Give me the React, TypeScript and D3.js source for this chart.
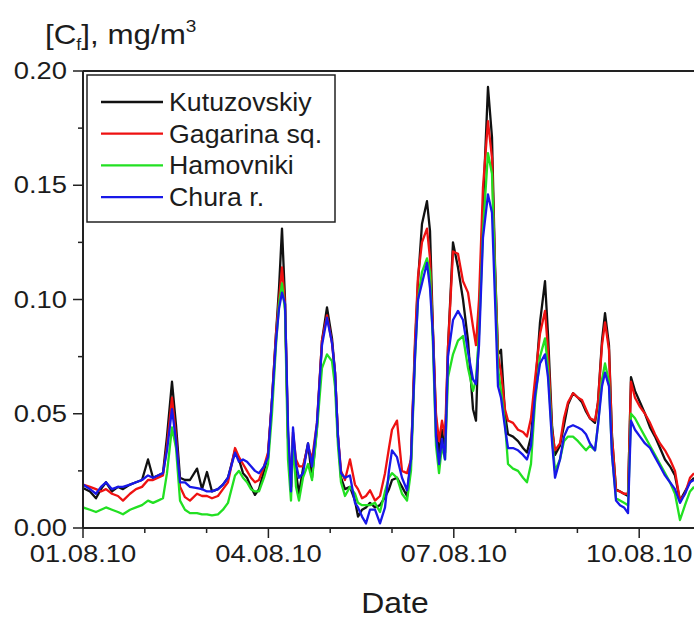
import React from "react";
import * as d3 from "d3";

// time in days since 01.08.10 00:00
const days = [
  0, 0.113, 0.21, 0.291, 0.372, 0.469, 0.566, 0.647, 0.761, 0.858, 0.955, 1.052, 1.133, 1.214, 1.294, 1.359, 1.44, 1.505, 1.57, 1.65,
  1.731, 1.845, 1.926, 2.006, 2.087, 2.184, 2.265, 2.346, 2.46, 2.524, 2.589, 2.654, 2.718, 2.783, 2.848, 2.929, 2.994, 3.058, 3.123, 3.172,
  3.22, 3.269, 3.317, 3.366, 3.398, 3.447, 3.495, 3.56, 3.641, 3.706, 3.786, 3.867, 3.948, 4.029, 4.078, 4.126, 4.175, 4.239, 4.32, 4.401,
  4.45, 4.515, 4.579, 4.644, 4.725, 4.806, 4.887, 4.951, 5.0, 5.081, 5.162, 5.243, 5.307, 5.372, 5.421, 5.485, 5.566, 5.615, 5.663, 5.712,
  5.761, 5.809, 5.858, 5.906, 5.987, 6.068, 6.149, 6.23, 6.311, 6.359, 6.408, 6.472, 6.553, 6.618, 6.667, 6.715, 6.764, 6.828, 6.877, 6.958,
  7.039, 7.12, 7.184, 7.249, 7.314, 7.395, 7.476, 7.524, 7.589, 7.638, 7.718, 7.783, 7.848, 7.929, 8.01, 8.074, 8.139, 8.204, 8.285, 8.333,
  8.398, 8.447, 8.511, 8.56, 8.625, 8.689, 8.754, 8.819, 8.867, 8.932, 9.013, 9.094, 9.175, 9.256, 9.337, 9.417, 9.498, 9.579, 9.66, 9.741,
  9.822, 9.887,
];

const kutuzovskiy = [
  0.0175, 0.016, 0.013, 0.017, 0.02, 0.016, 0.018, 0.017, 0.019, 0.02, 0.021, 0.03, 0.022, 0.023, 0.024, 0.04, 0.064, 0.045, 0.022, 0.021,
  0.021, 0.026, 0.017, 0.0245, 0.016, 0.017, 0.019, 0.022, 0.034, 0.03, 0.024, 0.022, 0.018, 0.0145, 0.017, 0.025, 0.032, 0.056, 0.085, 0.105,
  0.131, 0.1, 0.04, 0.018, 0.04, 0.024, 0.015, 0.026, 0.037, 0.022, 0.044, 0.082, 0.0965, 0.083, 0.068, 0.04, 0.022, 0.017, 0.018, 0.012,
  0.005, 0.008, 0.009, 0.011, 0.009, 0.01, 0.0135, 0.017, 0.021, 0.022, 0.018, 0.014, 0.03, 0.079, 0.108, 0.133, 0.143, 0.13, 0.086, 0.047,
  0.032, 0.043, 0.033, 0.079, 0.125, 0.114, 0.1, 0.082, 0.052, 0.047, 0.09, 0.14, 0.193, 0.171, 0.115, 0.076, 0.078, 0.05, 0.041, 0.04,
  0.038, 0.035, 0.033, 0.04, 0.06, 0.09, 0.108, 0.085, 0.045, 0.032, 0.036, 0.045, 0.054, 0.059, 0.057, 0.055, 0.051, 0.048, 0.046, 0.055,
  0.082, 0.094, 0.08, 0.04, 0.017, 0.016, 0.015, 0.014, 0.066, 0.06, 0.055, 0.05, 0.044, 0.04, 0.035, 0.03, 0.027, 0.023, 0.012, 0.016,
  0.02, 0.022,
];

const gagarina = [
  0.019, 0.018, 0.017, 0.016, 0.017, 0.015, 0.014, 0.012, 0.015, 0.017, 0.018, 0.021, 0.021, 0.022, 0.023, 0.036, 0.057, 0.04, 0.018, 0.0135,
  0.012, 0.015, 0.014, 0.014, 0.013, 0.014, 0.017, 0.02, 0.035, 0.031, 0.028, 0.025, 0.022, 0.02, 0.021, 0.027, 0.033, 0.056, 0.085, 0.1,
  0.114, 0.098, 0.04, 0.018, 0.042, 0.03, 0.027, 0.027, 0.036, 0.03, 0.046, 0.082, 0.093, 0.081, 0.068, 0.04, 0.025, 0.021, 0.03, 0.019,
  0.017, 0.013, 0.014, 0.0165, 0.012, 0.014, 0.024, 0.035, 0.043, 0.047, 0.025, 0.024, 0.03, 0.082, 0.11, 0.125, 0.131, 0.118, 0.086, 0.05,
  0.038, 0.047, 0.04, 0.079, 0.121, 0.12, 0.108, 0.103, 0.088, 0.08, 0.1, 0.149, 0.178, 0.162, 0.113, 0.076, 0.068, 0.052, 0.047, 0.046,
  0.043, 0.042, 0.04, 0.048, 0.065, 0.085, 0.095, 0.078, 0.043, 0.034, 0.037, 0.048, 0.055, 0.059, 0.057, 0.056, 0.052, 0.048, 0.047, 0.055,
  0.08, 0.09, 0.078, 0.04, 0.0165, 0.016, 0.015, 0.015, 0.064, 0.057, 0.053, 0.05, 0.046, 0.041, 0.037, 0.034, 0.03, 0.025, 0.012, 0.015,
  0.022, 0.024,
];

const hamovniki = [
  0.009, 0.008, 0.007, 0.008, 0.009, 0.008, 0.007, 0.006, 0.008, 0.009, 0.01, 0.012, 0.011, 0.012, 0.013, 0.024, 0.044, 0.035, 0.012, 0.008,
  0.0065, 0.0065, 0.006, 0.006, 0.0055, 0.006, 0.008, 0.011, 0.023, 0.025, 0.022, 0.02, 0.017, 0.016, 0.016, 0.022, 0.028, 0.05, 0.08, 0.098,
  0.107, 0.095, 0.03, 0.012, 0.038, 0.018, 0.012, 0.022, 0.028, 0.021, 0.043, 0.07, 0.076, 0.073, 0.062, 0.036, 0.02, 0.014, 0.018, 0.015,
  0.011, 0.01, 0.01, 0.01, 0.011, 0.007, 0.016, 0.022, 0.024, 0.022, 0.015, 0.012, 0.025, 0.074, 0.1, 0.112, 0.118, 0.112, 0.08, 0.036,
  0.024, 0.036, 0.03, 0.066, 0.076, 0.082, 0.084, 0.07, 0.06, 0.065, 0.085, 0.13, 0.164, 0.155, 0.11, 0.07, 0.06, 0.046, 0.028, 0.026,
  0.025, 0.022, 0.02, 0.028, 0.055, 0.075, 0.083, 0.07, 0.04, 0.025, 0.03, 0.038, 0.04, 0.04, 0.038, 0.036, 0.034, 0.036, 0.034, 0.045,
  0.065, 0.072, 0.064, 0.032, 0.013, 0.012, 0.011, 0.01, 0.05, 0.048, 0.044, 0.04, 0.036, 0.032, 0.028, 0.024, 0.02, 0.015, 0.0035, 0.01,
  0.016, 0.018,
];

const chura = [
  0.019, 0.017, 0.015, 0.018, 0.02, 0.017, 0.018, 0.018, 0.019, 0.02, 0.021, 0.023, 0.022, 0.023, 0.024, 0.034, 0.052, 0.038, 0.02, 0.02,
  0.018, 0.0175, 0.017, 0.016, 0.016, 0.017, 0.019, 0.022, 0.033, 0.029, 0.03, 0.029, 0.027, 0.025, 0.024, 0.027, 0.031, 0.056, 0.082, 0.096,
  0.103, 0.098, 0.045, 0.016, 0.044, 0.028, 0.022, 0.024, 0.037, 0.027, 0.046, 0.08, 0.092, 0.081, 0.068, 0.04, 0.024, 0.022, 0.023, 0.011,
  0.009, 0.005, 0.002, 0.008, 0.008, 0.002, 0.009, 0.025, 0.034, 0.031, 0.022, 0.0165, 0.03, 0.075, 0.1, 0.107, 0.116, 0.105, 0.084, 0.04,
  0.028, 0.039, 0.03, 0.075, 0.091, 0.095, 0.091, 0.077, 0.065, 0.063, 0.08, 0.127, 0.146, 0.138, 0.1, 0.062, 0.057, 0.044, 0.035, 0.035,
  0.034, 0.032, 0.03, 0.036, 0.058, 0.072, 0.076, 0.066, 0.038, 0.022, 0.03, 0.04, 0.044, 0.045, 0.044, 0.043, 0.041, 0.037, 0.034, 0.045,
  0.062, 0.068, 0.062, 0.032, 0.012, 0.01, 0.009, 0.0065, 0.047, 0.043, 0.04, 0.037, 0.035, 0.031, 0.027, 0.023, 0.02, 0.017, 0.011, 0.015,
  0.02, 0.021,
];

const seriesNames = ["Kutuzovskiy", "Gagarina sq.", "Hamovniki", "Chura r."];
const seriesColors = ["#111111", "#ee1111", "#22e022", "#1818e8"];
const seriesValues = [kutuzovskiy, gagarina, hamovniki, chura];

const yTicks = [0, 0.05, 0.1, 0.15, 0.2];
const yTickLabels = ["0.00", "0.05", "0.10", "0.15", "0.20"];
const xTicks = [0, 3, 6, 9];
const xTickLabels = ["01.08.10", "04.08.10", "07.08.10", "10.08.10"];

const W = 694;
const H = 618;
const left = 83;
const right = 701;
const top = 71;
const bottom = 528;

const textColor = "#1c1c1c";

function SText(props: {
  x: number;
  y: number;
  sx: number;
  size: number;
  anchor?: string;
  children: React.ReactNode;
}) {
  return (
    <text
      transform={`translate(${props.x},${props.y}) scale(${props.sx},1)`}
      textAnchor={props.anchor || "start"}
      fontSize={props.size}
      fill={textColor}
    >
      {props.children}
    </text>
  );
}

export default function App() {
  const x = d3.scaleLinear().domain([0, 10]).range([left, right]);
  const y = d3.scaleLinear().domain([0, 0.2]).range([bottom, top]);
  const line = d3
    .line<[number, number]>()
    .x((d) => x(d[0]))
    .y((d) => y(d[1]));

  const minorY = d3.range(0, 0.2001, 0.025);
  const minorX = d3.range(0, 11, 1);
  const font = "'Liberation Sans', Arial, sans-serif";

  return (
    <svg
      width={W}
      height={H}
      style={{ position: "absolute", left: 0, top: 0, background: "#fff" }}
      fontFamily={font}
    >
      <defs>
        <clipPath id="plotclip">
          <rect x={left} y={top} width={right - left} height={bottom - top} />
        </clipPath>
      </defs>
      <rect x={0} y={0} width={W} height={H} fill="#fff" />

      <g clipPath="url(#plotclip)">
        {seriesValues.map((vals, i) => (
          <path
            key={seriesNames[i]}
            d={line(days.map((d, j) => [d, vals[j]]) as [number, number][]) || ""}
            fill="none"
            stroke={seriesColors[i]}
            strokeWidth={2.3}
            strokeLinejoin="round"
          />
        ))}
      </g>

      {/* frame */}
      <line x1={left} x2={left} y1={top} y2={bottom} stroke="#222" strokeWidth={2} />
      <line x1={left} x2={W} y1={bottom} y2={bottom} stroke="#222" strokeWidth={2} />
      <line x1={left} x2={W} y1={top} y2={top} stroke="#222" strokeWidth={2} />

      {/* y ticks */}
      {minorY.map((v, i) => {
        const major = i % 2 === 0;
        return (
          <line
            key={"ym" + i}
            x1={left - (major ? 10 : 5)}
            x2={left}
            y1={y(v)}
            y2={y(v)}
            stroke="#222"
            strokeWidth={1.5}
          />
        );
      })}
      {yTicks.map((v, i) => (
        <SText key={"yl" + i} x={left - 16} y={y(v) + 8} sx={1.14} size={24} anchor="end">
          {yTickLabels[i]}
        </SText>
      ))}

      {/* x ticks */}
      {minorX.map((v, i) => {
        const major = i % 3 === 0;
        return (
          <line
            key={"xm" + i}
            x1={x(v)}
            x2={x(v)}
            y1={bottom}
            y2={bottom + (major ? 10 : 5)}
            stroke="#222"
            strokeWidth={1.5}
          />
        );
      })}
      {xTicks.map((v, i) => (
        <SText key={"xl" + i} x={x(v)} y={bottom + 34} sx={1.14} size={24} anchor="middle">
          {xTickLabels[i]}
        </SText>
      ))}

      {/* axis titles */}
      <SText x={395} y={613} sx={1.1} size={29} anchor="middle">
        Date
      </SText>
      <SText x={45} y={44} sx={1.12} size={28}>
        [C
        <tspan fontSize={16} dy={6}>
          f
        </tspan>
        <tspan dy={-6}>], mg/m</tspan>
        <tspan fontSize={17} dy={-12}>
          3
        </tspan>
      </SText>

      {/* legend */}
      <rect x={87} y={75} width={248} height={147} fill="#fff" stroke="#222" strokeWidth={1.5} />
      {seriesNames.map((name, i) => {
        const ly = 102 + i * 31.7;
        return (
          <g key={"lg" + i}>
            <line x1={101} x2={163} y1={ly} y2={ly} stroke={seriesColors[i]} strokeWidth={2.3} />
            <SText x={169} y={ly + 9} sx={1.07} size={25}>
              {name}
            </SText>
          </g>
        );
      })}
    </svg>
  );
}
